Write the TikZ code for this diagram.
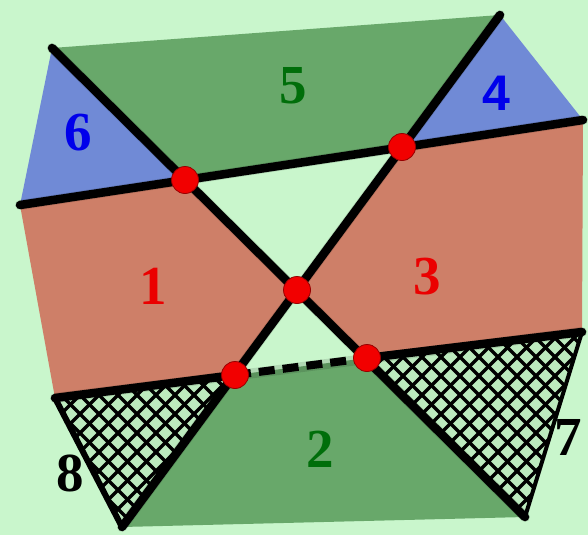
\documentclass[tikz,border=0pt]{standalone}
\usepackage{fontspec}
\setmainfont{Liberation Serif}
\newfontfamily\sansdigit{Liberation Sans}
\definecolor{bgcol}{RGB}{201,246,204}
\definecolor{hatchbg}{RGB}{188,234,190}
\definecolor{greenreg}{RGB}{104,168,106}
\definecolor{salmon}{RGB}{206,127,104}
\definecolor{bluereg}{RGB}{112,138,214}
\definecolor{dotred}{RGB}{242,0,0}
\definecolor{dotedge}{RGB}{150,0,0}
\definecolor{labred}{RGB}{235,0,0}
\definecolor{labblue}{RGB}{0,0,235}
\definecolor{labgreen}{RGB}{0,110,10}
\begin{document}
\begin{tikzpicture}[x=1pt,y=-1pt,
  blackline/.style={line width=8.5pt, line cap=round},
  shadowline/.style={line width=10pt, line cap=round, black, opacity=0.12},
  dashline/.style={line width=8pt, dash pattern=on 16pt off 8pt},
  hatchline/.style={line width=3.3pt},
  dot/.style={circle, fill=dotred, draw=dotedge, line width=0.8pt, minimum size=27pt, inner sep=0pt},
  lab/.style={font=\fontsize{55}{55}\selectfont\bfseries, inner sep=0pt}
]
\useasboundingbox (0,0) rectangle (588,535);
\fill[bgcol] (0,0) rectangle (588,535);

% key points
\coordinate (Atop) at (52,48);
\coordinate (Abot) at (525,517);
\coordinate (Btop) at (500,15);
\coordinate (Bbot) at (122,527);
\coordinate (Cl) at (20,205);
\coordinate (Cr) at (583,120);
\coordinate (Dl) at (55,398);
\coordinate (Dr) at (582,332);
\coordinate (P1) at (185,180);
\coordinate (P2) at (402,147);
\coordinate (P0) at (297,290);
\coordinate (P3) at (235,375);
\coordinate (P4) at (367,358);

% regions
\fill[greenreg] (Atop) -- (Btop) -- (P2) -- (P1) -- cycle;
\fill[bluereg] (Atop) -- (P1) -- (Cl) -- cycle;
\fill[bluereg] (Btop) -- (Cr) -- (P2) -- cycle;
\fill[salmon] (Cl) -- (P1) -- (P0) -- (P3) -- (Dl) -- cycle;
\fill[salmon] (P2) -- (Cr) -- (Dr) -- (P4) -- (P0) -- cycle;
\fill[greenreg] (P3) -- (P4) -- (Abot) -- (Bbot) -- cycle;

% hatched regions
\begin{scope}
\clip (Dl) -- (P3) -- (Bbot) -- cycle;
\fill[hatchbg] (Dl) -- (P3) -- (Bbot) -- cycle;
\foreach \i in {-600,-581,...,600} {
  \draw[hatchline] (\i,0) -- ++(600,600);
  \draw[hatchline] (\i,600) -- ++(600,-600);
}
\end{scope}
\begin{scope}
\clip (P4) -- (Dr) -- (Abot) -- cycle;
\fill[hatchbg] (P4) -- (Dr) -- (Abot) -- cycle;
\foreach \i in {-600,-581,...,600} {
  \draw[hatchline] (\i,0) -- ++(600,600);
  \draw[hatchline] (\i,600) -- ++(600,-600);
}
\end{scope}
\draw[line width=6pt, line cap=round] (Dl) -- (Bbot);
\draw[line width=4pt, line cap=round] (Dr) -- (Abot);

% shadows of the main lines
\begin{scope}[shift={(3,4)}]
\draw[shadowline] (Atop) -- (Abot);
\draw[shadowline] (Bbot) -- (Btop);
\draw[shadowline] (Cl) -- (Cr);
\draw[shadowline] (Dl) -- (Dr);
\end{scope}

% main lines
\draw[blackline] (Atop) -- (Abot);
\draw[blackline] (Bbot) -- (Btop);
\draw[blackline] (Cl) -- (Cr);
\draw[blackline] (Dl) -- (P3);
\draw[blackline] (P4) -- (Dr);
\draw[dashline] (P3) -- (P4);

% dots
\node[dot] (d1) at (P1) {};
\node[dot] (d2) at (P2) {};
\node[dot] (d0) at (P0) {};
\node[dot] (d3) at (P3) {};
\node[dot] (d4) at (P4) {};

% labels
\node[lab, text=labred] (l1) at (153,286) {1};
\node[lab, text=labgreen] (l2) at (320,449) {2};
\node[lab, text=labred] (l3) at (427,277) {3};
\node[lab, text=labblue, font=\sansdigit\fontsize{50}{50}\selectfont\bfseries] (l4) at (496,93) {4};
\node[lab, text=labgreen] (l5) at (293,86) {5};
\node[lab, text=labblue] (l6) at (78,133) {6};
\node[lab, text=black] (l7) at (568,437) {7};
\node[lab, text=black] (l8) at (70,473) {8};
\end{tikzpicture}
\end{document}
